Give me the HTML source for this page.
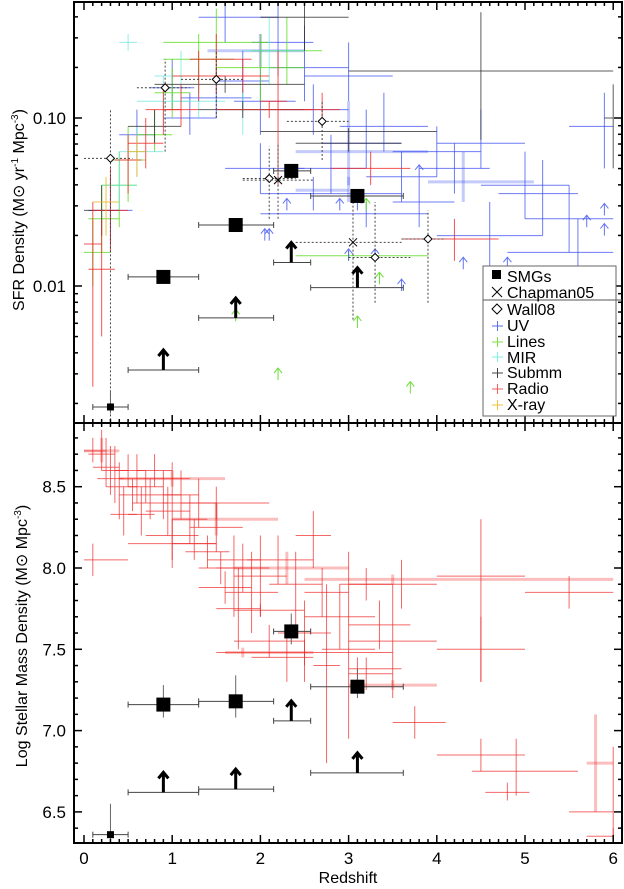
<!DOCTYPE html>
<html><head><meta charset="utf-8"><style>
html,body{margin:0;padding:0;background:#fff;}
svg{display:block;font-family:"Liberation Sans",sans-serif;}
</style></head><body>
<svg id="chart" width="624" height="889" viewBox="0 0 624 889" xmlns="http://www.w3.org/2000/svg">
<g id="top-marks"></g>
<g id="bot-marks"></g>
<g id="axes"></g>
<text transform="translate(24,210) rotate(-90)" text-anchor="middle" font-size="16">SFR Density (M<tspan font-family="DejaVu Sans">⊙</tspan> yr<tspan font-size="10" dy="-6">-1</tspan><tspan dy="6"> Mpc</tspan><tspan font-size="10" dy="-6">-3</tspan><tspan dy="6">)</tspan></text>
<text transform="translate(27,636) rotate(-90)" text-anchor="middle" font-size="16">Log Stellar Mass Density (M<tspan font-family="DejaVu Sans">⊙</tspan> Mpc<tspan font-size="10" dy="-6">-3</tspan><tspan dy="6">)</tspan></text>
<text x="348" y="883" text-anchor="middle" font-size="16">Redshift</text>
<g>
<rect x="483" y="266" width="133" height="150" fill="#fff" stroke="#666" stroke-width="1"/>
<line x1="483" y1="300" x2="622" y2="300" stroke="#555" stroke-width="1"/>
<rect x="492" y="270" width="9" height="9" fill="#000"/>
<text x="507" y="282" font-size="16">SMGs</text>
<path d="M492 287 L502 297 M502 287 L492 297" stroke="#000" stroke-width="1"/>
<text x="507" y="298" font-size="16">Chapman05</text>
<path d="M497 304 L502 309 L497 314 L492 309 Z" fill="none" stroke="#000"/>
<text x="507" y="315" font-size="16">Wall08</text>
<g id="legend-crosses"></g>
<text x="507" y="331" font-size="16">UV</text>
<text x="507" y="347" font-size="16">Lines</text>
<text x="507" y="363" font-size="16">MIR</text>
<text x="507" y="378" font-size="16">Submm</text>
<text x="507" y="394" font-size="16">Radio</text>
<text x="507" y="410" font-size="16">X-ray</text>
</g>
</svg>
<script>
// rows: [z, zlo, zhi, log10 value, lo, hi]
const uvPts=[[0.3,0.05,0.55,-1.55,-1.75,-1.35],[0.6,0.4,0.8,-1.1,-1.25,-0.95],[1.0,0.75,1.25,-0.82,-0.95,-0.65],[1.2,0.9,1.5,-1.0,-1.1,-0.85],[1.5,1.1,1.9,-0.88,-1.0,-0.7],[1.8,1.5,2.1,-0.78,-0.95,-0.6],[2.0,1.7,2.4,-0.9,-1.1,-0.7],[2.2,1.9,2.6,-0.55,-0.75,-0.3],[2.5,2.1,3.0,-0.7,-0.9,-0.45],[2.6,2.2,3.0,-0.95,-1.1,-0.8],[2.8,2.4,3.2,-1.3,-1.45,-1.1],[3.0,2.5,3.5,-0.75,-0.9,-0.55],[3.2,2.7,3.6,-1.15,-1.3,-0.95],[3.4,2.9,3.9,-1.05,-1.2,-0.85],[3.6,3.2,4.0,-1.35,-1.5,-1.2],[3.8,3.5,4.2,-1.5,-1.65,-1.35],[4.0,3.5,4.5,-1.2,-1.35,-1.05],[4.2,3.8,4.6,-1.3,-1.45,-1.15],[4.5,4.0,5.0,-1.15,-1.3,-0.95],[5.0,4.5,5.5,-1.4,-1.6,-1.2],[5.2,4.7,5.6,-1.45,-1.7,-1.25],[5.9,5.5,6.0,-1.05,-1.3,-0.85],[5.5,5.0,6.0,-1.6,-1.8,-1.4],[1.6,1.3,2.2,-0.4,-0.55,-0.2],[2.0,1.6,2.5,-1.3,-1.45,-1.15],[4.6,4.0,5.2,-1.7,-1.9,-1.5],[3.2,2.0,3.9,-1.57,-1.65,-1.5],[2.6,2.0,3.6,-1.45,-1.55,-1.35],[5.6,4.8,6.0,-1.8,-2.0,-1.6]];
const uvPale=[[3.0,2.4,3.9,-1.2,-1.4,-0.9],[4.3,3.9,5.1,-1.38,-1.5,-1.2],[2.0,1.4,2.5,-0.6,-0.7,-0.5],[3.0,2.4,3.0,-1.43,-1.5,-1.35]];
const linePts=[[0.1,0,0.3,-1.8,-2.0,-1.6],[0.2,0.05,0.4,-1.6,-1.8,-1.4],[0.5,0.3,0.7,-1.25,-1.5,-1.05],[0.8,0.6,1.0,-1.1,-1.2,-0.95],[1.0,0.8,1.2,-0.85,-1.0,-0.7],[1.3,0.9,1.7,-0.65,-0.85,-0.5],[1.5,0.9,2.1,-0.55,-0.75,-0.35],[2.0,1.5,2.5,-0.7,-0.9,-0.5],[2.3,1.9,2.7,-0.6,-0.8,-0.4],[0.4,0.2,0.6,-1.4,-1.65,-1.2],[3.0,2.4,3.9,-1.82,-1.85,-1.79]];
const mirPts=[[0.4,0.2,0.6,-1.4,-1.55,-1.2],[0.6,0.4,0.9,-1.2,-1.35,-1.05],[0.9,0.6,1.2,-0.9,-1.05,-0.75],[1.1,0.8,1.4,-0.75,-0.9,-0.6],[1.3,1.0,1.6,-0.9,-1.0,-0.7],[0.5,0.4,0.6,-0.55,-0.6,-0.5],[2.1,1.8,2.5,-0.6,-0.8,-0.4],[1.8,1.5,2.2,-0.95,-1.1,-0.8]];
const submmPts=[[0.2,0,0.4,-1.55,-1.7,-1.4],[0.8,0.5,1.1,-1.05,-1.15,-0.95],[1.6,0.8,2.5,-0.8,-0.85,-0.75],[2.5,2.0,3.0,-0.4,-0.6,-0.1],[3.0,2.4,3.6,-1.15,-1.2,-1.1],[3.0,2.0,4.0,-1.08,-1.1,-1.06],[1.8,1.3,2.5,-0.95,-1.0,-0.9],[4.5,3.0,6.0,-0.72,-1.13,-0.37],[6.0,5.9,6.0,-1.0,-1.3,-0.8]];
const radioPts=[[0.1,0,0.2,-1.75,-2.6,-1.5],[0.2,0.05,0.35,-1.9,-2.3,-1.6],[0.3,0.1,0.5,-1.55,-1.8,-1.3],[0.5,0.35,0.65,-1.25,-1.45,-1.1],[0.7,0.5,0.9,-1.15,-1.3,-1.0],[0.9,0.7,1.1,-0.95,-1.1,-0.8],[1.1,0.9,1.3,-0.95,-1.05,-0.8],[1.3,1.0,1.6,-0.75,-0.9,-0.6],[1.5,1.2,1.9,-0.65,-0.85,-0.5],[1.8,1.5,2.1,-0.75,-0.85,-0.65],[2.1,1.5,2.6,-0.95,-1.0,-0.9],[3.25,2.8,3.7,-1.3,-1.4,-1.2],[4.2,3.6,4.7,-1.72,-1.85,-1.6],[2.7,2.5,2.9,-0.95,-1.05,-0.85],[2.2,2.0,2.3,-0.9,-1.4,-0.6]];
const xrayPts=[[0.25,0.1,0.4,-1.5,-1.7,-1.35],[0.6,0.5,0.7,-1.2,-1.35,-1.1]];
const smgSfr=[[0.9,0.5,1.3,-1.946,-1.98,-1.91],[1.72,1.3,2.15,-1.637,-1.66,-1.61],[2.35,2.15,2.57,-1.315,-1.34,-1.29],[3.1,2.57,3.62,-1.464,-1.49,-1.44]];
const smgSfrSmall=[[0.3,0.1,0.5,-2.72,-2.76,-2.62]];
const smgSfrLimits=[[0.9,0.5,1.3,-2.5],[1.72,1.3,2.15,-2.19],[2.35,2.15,2.57,-1.86],[3.1,2.57,3.62,-2.01]];
const wallPts=[[0.3,0.0,0.55,-1.24,-2.8,-0.95],[0.92,0.6,1.2,-0.82,-1.2,-0.65],[1.5,1.1,1.8,-0.77,-1.0,-0.6],[2.7,2.3,3.0,-1.02,-1.25,-0.9],[2.1,1.8,2.4,-1.36,-1.6,-1.17],[3.3,3.0,3.7,-1.83,-2.1,-1.5],[3.9,3.6,4.1,-1.72,-2.1,-1.55]];
const chapPts=[[2.2,1.8,2.6,-1.37,-1.6,-1.15],[3.05,2.4,3.6,-1.74,-2.2,-1.5]];
const uvLimits=[[2.3,-1.55],[3.1,-1.55],[3.8,-1.35],[2.1,-1.73],[2.9,-1.55],[5.9,-1.58],[5.7,-1.65],[3.3,-1.85],[3.6,-2.03],[4.3,-1.9],[4.8,-1.9],[2.05,-1.73],[5.9,-1.7],[3.0,-1.85]];
const lineLimits=[[1.72,-2.21],[2.2,-2.56],[3.1,-2.25],[3.7,-2.64],[3.35,-1.99],[3.2,-1.55]];
const massRadio=[[0.1,0,0.25,8.72,8.65,8.8],[0.2,0.05,0.35,8.7,8.6,8.85],[0.25,0.1,0.4,8.62,8.5,8.8],[0.3,0.15,0.45,8.55,8.45,8.75],[0.35,0.2,0.5,8.6,8.4,8.75],[0.4,0.25,0.6,8.5,8.3,8.65],[0.45,0.3,0.6,8.33,8.2,8.5],[0.5,0.35,0.7,8.6,8.5,8.7],[0.55,0.4,0.7,8.45,8.35,8.55],[0.6,0.4,0.8,8.55,8.4,8.7],[0.65,0.5,0.8,8.33,8.2,8.5],[0.7,0.5,0.9,8.5,8.4,8.6],[0.75,0.55,0.95,8.4,8.3,8.55],[0.8,0.6,1.0,8.6,8.5,8.7],[0.9,0.7,1.1,8.45,8.3,8.6],[0.95,0.7,1.2,8.35,8.2,8.5],[1.0,0.8,1.2,8.55,8.4,8.65],[1.0,0.7,1.3,8.2,8.05,8.4],[1.1,0.9,1.3,8.45,8.3,8.6],[1.2,1.0,1.4,8.3,8.15,8.45],[1.25,1.0,1.5,8.15,8.05,8.3],[1.3,1.1,1.5,8.4,8.25,8.55],[1.4,1.15,1.65,8.1,8.0,8.2],[1.5,1.2,1.8,8.25,8.1,8.4],[1.55,1.3,1.8,8.0,7.9,8.1],[1.6,1.3,1.9,7.88,7.78,7.98],[1.7,1.4,2.0,8.05,7.7,8.2],[1.75,1.5,2.0,7.75,7.5,8.0],[1.8,1.5,2.1,8.0,7.85,8.15],[1.9,1.6,2.2,7.85,7.6,8.1],[2.0,1.7,2.3,7.95,7.7,8.2],[2.1,1.7,2.5,7.55,7.45,7.65],[2.2,1.85,2.6,8.05,7.9,8.2],[2.3,1.9,2.6,7.45,7.3,7.6],[2.4,2.1,2.7,7.9,7.6,8.1],[2.5,2.2,2.8,7.6,7.3,7.8],[2.6,2.4,2.8,8.2,8.0,8.35],[2.7,2.5,3.0,7.85,7.7,8.0],[2.75,2.6,2.9,7.4,6.8,7.9],[2.9,2.5,3.3,7.7,7.5,7.9],[3.0,2.7,3.3,7.5,6.95,8.1],[3.2,2.9,3.5,7.9,7.8,8.0],[3.35,3.0,3.7,7.65,7.5,7.8],[3.5,3.0,4.0,7.55,7.2,7.9],[3.6,3.0,4.0,7.9,7.75,8.05],[3.1,3.0,3.6,7.38,7.3,7.45],[3.2,3.0,3.5,7.35,7.25,7.45],[3.75,3.5,4.1,7.05,6.95,7.15],[4.5,4.0,5.0,7.95,7.3,8.3],[4.5,4.0,5.0,7.5,7.3,7.7],[4.5,4.0,5.0,6.85,6.75,6.95],[4.9,4.4,5.6,6.75,6.6,6.95],[5.5,5.0,6.0,7.85,7.75,7.95],[4.8,4.55,5.05,6.62,6.57,6.68],[6.0,5.5,6.0,6.5,6.3,6.9],[6.0,5.7,6.0,6.35,6.3,6.4],[0.1,0,0.5,8.05,7.95,8.15],[1.0,0.5,1.5,8.15,8.0,8.3],[2.5,1.5,3.5,7.48,7.4,7.56],[2.0,1.7,2.5,7.74,7.7,7.78],[1.5,0.9,2.1,8.4,8.3,8.5]];
const massRadioPale=[[0.2,0.0,0.4,8.72,8.65,8.8],[1.0,0.4,1.6,8.55,8.5,8.6],[1.5,1.0,2.2,8.3,8.2,8.4],[2.3,1.7,3.0,8.0,7.9,8.1],[3.5,2.5,6.0,7.93,7.9,7.96],[1.8,1.6,2.6,7.48,7.45,7.51],[3.5,3.0,4.0,7.28,7.25,7.31],[5.8,5.7,6.0,6.8,6.5,7.1]];
const massSmg=[[0.9,0.5,1.3,7.16,7.08,7.28],[1.72,1.3,2.15,7.18,7.08,7.34],[2.35,2.15,2.57,7.61,7.53,7.72],[3.1,2.57,3.62,7.27,7.2,7.38]];
const massSmgSmall=[[0.3,0.1,0.5,6.36,6.33,6.55]];
const massLimits=[[0.9,0.5,1.3,6.62],[1.72,1.3,2.15,6.64],[2.35,2.15,2.57,7.06],[3.1,2.57,3.62,6.74]];
const sfrTickVals=[0.01,0.10];
const sfrTickLabels=["0.01","0.10"];
const massTickVals=[6.5,7.0,7.5,8.0,8.5];
const massTickLabels=["6.5","7.0","7.5","8.0","8.5"];
const zTickVals=[0,1,2,3,4,5,6];

const NS="http://www.w3.org/2000/svg";
const L=74,R=622,T1=2,B1=423,T2=423,B2=843;
function X(z){return 84+88.2*z;}
function Y1(lg){return 118-168*(lg+1);}
function Y2(v){return 568-162.6*(v-8.0);}
function el(p,tag,a){const e=document.createElementNS(NS,tag);for(const k in a)e.setAttribute(k,a[k]);p.appendChild(e);return e;}
const gt=document.getElementById('top-marks'),gb=document.getElementById('bot-marks'),ga=document.getElementById('axes');
function clipY(y,t,b){return Math.max(t,Math.min(b,y));}
function cross(g,d,Yf,col,name,t,b,w){
  const c=el(g,'g',{});
  
  
  el(c,'line',{x1:X(d[1]),x2:X(d[2]),y1:clipY(Yf(d[3]),t,b),y2:clipY(Yf(d[3]),t,b),stroke:col,'stroke-width':w||1});
  el(c,'line',{x1:X(d[0]),x2:X(d[0]),y1:clipY(Yf(d[4]),t,b),y2:clipY(Yf(d[5]),t,b),stroke:col,'stroke-width':w||1});
}
function arrow(g,x,y,col,len,w,name){
  const a=el(g,'path',{d:`M${x} ${y} L${x} ${y-len} M${x-4} ${y-len+5} L${x} ${y-len} L${x+4} ${y-len+5}`,stroke:col,'stroke-width':w,fill:'none'});
  
  
}
uvPale.forEach(d=>cross(gt,d,Y1,'rgba(60,80,240,0.3)','uv-point-pale',T1,B1,3));
uvPts.forEach(d=>cross(gt,d,Y1,'rgba(60,80,240,0.75)','uv-point',T1,B1));
linePts.forEach(d=>cross(gt,d,Y1,'rgba(90,220,30,0.8)','lines-point',T1,B1));
mirPts.forEach(d=>cross(gt,d,Y1,'rgba(100,230,220,0.7)','mir-point',T1,B1));
submmPts.forEach(d=>cross(gt,d,Y1,'rgba(40,40,40,0.75)','submm-point',T1,B1));
radioPts.forEach(d=>cross(gt,d,Y1,'rgba(240,40,40,0.8)','radio-point',T1,B1));
xrayPts.forEach(d=>cross(gt,d,Y1,'rgba(240,180,30,0.8)','xray-point',T1,B1));
uvLimits.forEach(d=>arrow(gt,X(d[0]),Y1(d[1]),'rgba(60,80,240,0.8)',12,1,'uv-lower-limit'));
lineLimits.forEach(d=>arrow(gt,X(d[0]),Y1(d[1]),'rgba(90,220,30,0.9)',12,1,'lines-lower-limit'));
function dotted(g,d,Yf,name){
  const c=el(g,'g',{stroke:'#444','stroke-width':1,'stroke-dasharray':'2,2'});
  
  
  el(c,'line',{x1:X(d[1]),x2:X(d[2]),y1:Yf(d[3]),y2:Yf(d[3])});
  el(c,'line',{x1:X(d[0]),x2:X(d[0]),y1:Yf(d[4]),y2:Yf(d[5])});
}
wallPts.forEach(d=>{dotted(gt,d,Y1,'wall08-errorbar');const x=X(d[0]),y=Y1(d[3]);
  const m=el(gt,'path',{d:`M${x} ${y-4} L${x+4} ${y} L${x} ${y+4} L${x-4} ${y} Z`,fill:'#fff',stroke:'#000'});
  
  });
chapPts.forEach(d=>{dotted(gt,d,Y1,'chapman05-errorbar');const x=X(d[0]),y=Y1(d[3]);
  const m=el(gt,'path',{d:`M${x-4} ${y-4} L${x+4} ${y+4} M${x+4} ${y-4} L${x-4} ${y+4}`,stroke:'#000'});
  
  });
function smg(g,d,Yf,s,name){
  const c=el(g,'g',{});
  
  
  const y=Yf(d[3]);
  el(c,'line',{x1:X(d[1]),x2:X(d[2]),y1:y,y2:y,stroke:'#444'});
  el(c,'line',{x1:X(d[1]),x2:X(d[1]),y1:y-3,y2:y+3,stroke:'#444'});
  el(c,'line',{x1:X(d[2]),x2:X(d[2]),y1:y-3,y2:y+3,stroke:'#444'});
  el(c,'line',{x1:X(d[0]),x2:X(d[0]),y1:Yf(d[4]),y2:Yf(d[5]),stroke:'#666'});
  el(c,'rect',{x:X(d[0])-s/2,y:y-s/2,width:s,height:s,fill:'#000'});
}
function smgLim(g,d,Yf,name){
  const y=Yf(d[3]);
  const c=el(g,'g',{});
  
  
  el(c,'line',{x1:X(d[1]),x2:X(d[2]),y1:y,y2:y,stroke:'#444'});
  el(c,'line',{x1:X(d[1]),x2:X(d[1]),y1:y-3,y2:y+3,stroke:'#444'});
  el(c,'line',{x1:X(d[2]),x2:X(d[2]),y1:y-3,y2:y+3,stroke:'#444'});
  el(c,'path',{d:`M${X(d[0])} ${y} L${X(d[0])} ${y-20} M${X(d[0])-5} ${y-14} L${X(d[0])} ${y-20} L${X(d[0])+5} ${y-14}`,stroke:'#000','stroke-width':3,fill:'none'});
}
smgSfr.forEach(d=>smg(gt,d,Y1,14,'smg-sfr-point'));
smgSfrSmall.forEach(d=>smg(gt,d,Y1,7,'smg-sfr-local-point'));
smgSfrLimits.forEach(d=>smgLim(gt,d,Y1,'smg-sfr-lower-limit'));
massRadioPale.forEach(d=>cross(gb,d,Y2,'rgba(240,40,40,0.3)','radio-mass-point-pale',T2,B2,3));
massRadio.forEach(d=>cross(gb,d,Y2,'rgba(240,40,40,0.7)','radio-mass-point',T2,B2));
massSmg.forEach(d=>smg(gb,d,Y2,14,'smg-mass-point'));
massSmgSmall.forEach(d=>smg(gb,d,Y2,7,'smg-mass-local-point'));
massLimits.forEach(d=>smgLim(gb,d,Y2,'smg-mass-lower-limit'));
const lc=document.getElementById('legend-crosses');
[['#5a6cf0',326],['#7be040',342],['#80f0e0',357],['#444',373],['#f06060',389],['#f0c040',405]].forEach(([c,y])=>{
  el(lc,'path',{d:`M492 ${y} L503 ${y} M497.5 ${y-5} L497.5 ${y+5}`,stroke:c,'stroke-width':1});
});
[[T1,B1],[T2,B2]].forEach(([t,b])=>{
  el(ga,'rect',{x:L,y:t,width:R-L,height:b-t,fill:'none',stroke:'#000','stroke-width':2});
  for(let i=0;i<=61;i++){const z=i/10,x=X(z);if(x>R)break;const len=(i%10===0)?8:4;
    el(ga,'line',{x1:x,x2:x,y1:b,y2:b-len,stroke:'#000','stroke-width':1.5});
    el(ga,'line',{x1:x,x2:x,y1:t,y2:t+len,stroke:'#000','stroke-width':1.5});}
});
for(let d=-3;d<=-1;d++){for(let m=1;m<=9;m++){const lg=d+Math.log10(m);const y=Y1(lg);if(y<T1||y>B1)continue;const len=m===1?8:4;
  el(ga,'line',{x1:L,x2:L+len,y1:y,y2:y,stroke:'#000','stroke-width':1.5});
  el(ga,'line',{x1:R-len,x2:R,y1:y,y2:y,stroke:'#000','stroke-width':1.5});}}
sfrTickVals.forEach((v,i)=>{const t=el(ga,'text',{x:66,y:Y1(Math.log10(v))+6,'text-anchor':'end','font-size':17});t.textContent=sfrTickLabels[i];
  
  });
for(let v=6.3;v<=8.9;v+=0.1){const y=Y2(v);if(y<T2||y>B2)continue;const major=Math.abs(v*2-Math.round(v*2))<0.01;const len=major?8:4;
  el(ga,'line',{x1:L,x2:L+len,y1:y,y2:y,stroke:'#000','stroke-width':1.5});
  el(ga,'line',{x1:R-len,x2:R,y1:y,y2:y,stroke:'#000','stroke-width':1.5});}
massTickVals.forEach((v,i)=>{const t=el(ga,'text',{x:66,y:Y2(v)+6,'text-anchor':'end','font-size':17});t.textContent=massTickLabels[i];
  
  });
zTickVals.forEach(z=>{const t=el(ga,'text',{x:X(z),y:864,'text-anchor':'middle','font-size':17});t.textContent=String(z);
  
  });
</script>
</body></html>
